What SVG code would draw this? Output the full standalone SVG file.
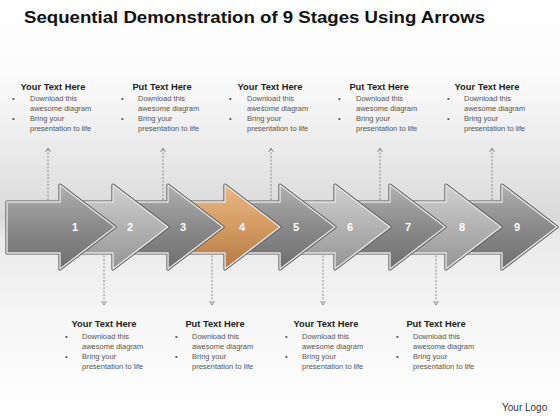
<svg xmlns="http://www.w3.org/2000/svg" width="560" height="420" viewBox="0 0 560 420">
<style>
.title{font-family:"Liberation Sans",Arial,sans-serif;font-weight:bold;font-size:17px;fill:#111}
.h{font-family:"Liberation Sans",Arial,sans-serif;font-weight:bold;font-size:9.3px;fill:#222;text-anchor:middle}
.b{font-family:"Liberation Sans",Arial,sans-serif;font-size:7.5px;fill:#555}
.num{font-family:"Liberation Sans",Arial,sans-serif;font-weight:bold;font-size:11px;fill:#fff;text-anchor:middle}
.logo{font-family:"Liberation Sans",Arial,sans-serif;font-size:10px;fill:#333}
.dash{stroke:#777;stroke-width:0.8;stroke-dasharray:2,1.5;fill:none}
.chev{stroke:#777;stroke-width:0.8;fill:none}
.outer{stroke:#5a5a5a;stroke-width:3.2;stroke-linejoin:round}
.inner{stroke:#e6e6e6;stroke-width:1.4;stroke-linejoin:round}
</style>
<defs>
<linearGradient id="bg" x1="0" y1="0" x2="0" y2="1">
<stop offset="0" stop-color="#ffffff"/>
<stop offset="0.18" stop-color="#fbfbfb"/>
<stop offset="0.4" stop-color="#e6e6e6"/>
<stop offset="0.52" stop-color="#d9d9d9"/>
<stop offset="0.56" stop-color="#e9e9e9"/>
<stop offset="0.75" stop-color="#f6f6f6"/>
<stop offset="1" stop-color="#ffffff"/>
</linearGradient>
<linearGradient id="gd" x1="0" y1="0" x2="0" y2="1">
<stop offset="0" stop-color="#b0b0b0"/>
<stop offset="0.5" stop-color="#8a8a8a"/>
<stop offset="1" stop-color="#6e6e6e"/>
</linearGradient>
<linearGradient id="gl" x1="0" y1="0" x2="0" y2="1">
<stop offset="0" stop-color="#d0d0d0"/>
<stop offset="0.5" stop-color="#b2b2b2"/>
<stop offset="1" stop-color="#959595"/>
</linearGradient>
<linearGradient id="go" x1="0" y1="0" x2="0" y2="1">
<stop offset="0" stop-color="#e8b886"/>
<stop offset="0.5" stop-color="#d39a62"/>
<stop offset="1" stop-color="#b57a45"/>
</linearGradient>
<path id="arr" d="M -108,-25 L -55,-25 L -55,-42 L 0,0 L -55,42 L -55,26 L -108,26 Z"/>
</defs>
<rect x="0" y="0" width="560" height="420" fill="url(#bg)"/>
<text class="title" x="24" y="23" textLength="461" lengthAdjust="spacingAndGlyphs">Sequential Demonstration of 9 Stages Using Arrows</text>

<g id="connectors">
<path class="dash" d="M48,149 V202 M163,149 V202 M271,149 V202 M380,149 V202 M492,149 V202"/>
<path class="chev" d="M45.5,152 L48,148 L50.5,152 M160.5,152 L163,148 L165.5,152 M268.5,152 L271,148 L273.5,152 M377.5,152 L380,148 L382.5,152 M489.5,152 L492,148 L494.5,152"/>
<path class="dash" d="M104,252 V305 M212,252 V305 M323,252 V305 M436,252 V305"/>
<path class="chev" d="M101.5,301 L104,305 L106.5,301 M209.5,301 L212,305 L214.5,301 M320.5,301 L323,305 L325.5,301 M433.5,301 L436,305 L438.5,301"/>
</g>

<g id="arrow9" transform="translate(557,227)"><use href="#arr" class="outer" fill="none"/><use href="#arr" class="inner" fill="url(#gd)"/></g>
<g id="arrow8" transform="translate(501,227)"><use href="#arr" class="outer" fill="none"/><use href="#arr" class="inner" fill="url(#gl)"/></g>
<g id="arrow7" transform="translate(445,227)"><use href="#arr" class="outer" fill="none"/><use href="#arr" class="inner" fill="url(#gd)"/></g>
<g id="arrow6" transform="translate(390,227)"><use href="#arr" class="outer" fill="none"/><use href="#arr" class="inner" fill="url(#gl)"/></g>
<g id="arrow5" transform="translate(335,227)"><use href="#arr" class="outer" fill="none"/><use href="#arr" class="inner" fill="url(#gd)"/></g>
<g id="arrow4" transform="translate(280,227)"><use href="#arr" class="outer" fill="none"/><use href="#arr" class="inner" fill="url(#go)"/></g>
<g id="arrow3" transform="translate(223,227)"><use href="#arr" class="outer" fill="none"/><use href="#arr" class="inner" fill="url(#gd)"/></g>
<g id="arrow2" transform="translate(168,227)"><use href="#arr" class="outer" fill="none"/><use href="#arr" class="inner" fill="url(#gl)"/></g>
<g id="arrow1" transform="translate(115,227)"><use href="#arr" class="outer" fill="none"/><use href="#arr" class="inner" fill="url(#gd)"/></g>

<g id="numbers">
<text class="num" x="75" y="231">1</text>
<text class="num" x="130" y="231">2</text>
<text class="num" x="183" y="231">3</text>
<text class="num" x="242" y="231">4</text>
<text class="num" x="296" y="231">5</text>
<text class="num" x="350" y="231">6</text>
<text class="num" x="408" y="231">7</text>
<text class="num" x="462" y="231">8</text>
<text class="num" x="517" y="231">9</text>
</g>

<g id="top1">
<text class="h" x="53" y="90">Your Text Here</text>
<text class="b" x="12" y="100.5">•</text><text class="b" x="30" y="100.5">Download this</text>
<text class="b" x="30" y="110.5">awesome diagram</text>
<text class="b" x="12" y="120.5">•</text><text class="b" x="30" y="120.5">Bring your</text>
<text class="b" x="30" y="130.5">presentation to life</text>
</g>
<g id="top2">
<text class="h" x="162" y="90">Put Text Here</text>
<text class="b" x="121" y="100.5">•</text><text class="b" x="138" y="100.5">Download this</text>
<text class="b" x="138" y="110.5">awesome diagram</text>
<text class="b" x="121" y="120.5">•</text><text class="b" x="138" y="120.5">Bring your</text>
<text class="b" x="138" y="130.5">presentation to life</text>
</g>
<g id="top3">
<text class="h" x="270" y="90">Your Text Here</text>
<text class="b" x="229" y="100.5">•</text><text class="b" x="247" y="100.5">Download this</text>
<text class="b" x="247" y="110.5">awesome diagram</text>
<text class="b" x="229" y="120.5">•</text><text class="b" x="247" y="120.5">Bring your</text>
<text class="b" x="247" y="130.5">presentation to life</text>
</g>
<g id="top4">
<text class="h" x="379" y="90">Put Text Here</text>
<text class="b" x="338" y="100.5">•</text><text class="b" x="356" y="100.5">Download this</text>
<text class="b" x="356" y="110.5">awesome diagram</text>
<text class="b" x="338" y="120.5">•</text><text class="b" x="356" y="120.5">Bring your</text>
<text class="b" x="356" y="130.5">presentation to life</text>
</g>
<g id="top5">
<text class="h" x="487" y="90">Your Text Here</text>
<text class="b" x="447" y="100.5">•</text><text class="b" x="464" y="100.5">Download this</text>
<text class="b" x="464" y="110.5">awesome diagram</text>
<text class="b" x="447" y="120.5">•</text><text class="b" x="464" y="120.5">Bring your</text>
<text class="b" x="464" y="130.5">presentation to life</text>
</g>

<g id="bot1">
<text class="h" x="104" y="327">Your Text Here</text>
<text class="b" x="65" y="338.5">•</text><text class="b" x="82" y="338.5">Download this</text>
<text class="b" x="82" y="348.5">awesome diagram</text>
<text class="b" x="65" y="358.5">•</text><text class="b" x="82" y="358.5">Bring your</text>
<text class="b" x="82" y="368.5">presentation to life</text>
</g>
<g id="bot2">
<text class="h" x="215" y="327">Put Text Here</text>
<text class="b" x="175" y="338.5">•</text><text class="b" x="192" y="338.5">Download this</text>
<text class="b" x="192" y="348.5">awesome diagram</text>
<text class="b" x="175" y="358.5">•</text><text class="b" x="192" y="358.5">Bring your</text>
<text class="b" x="192" y="368.5">presentation to life</text>
</g>
<g id="bot3">
<text class="h" x="326" y="327">Your Text Here</text>
<text class="b" x="285" y="338.5">•</text><text class="b" x="302" y="338.5">Download this</text>
<text class="b" x="302" y="348.5">awesome diagram</text>
<text class="b" x="285" y="358.5">•</text><text class="b" x="302" y="358.5">Bring your</text>
<text class="b" x="302" y="368.5">presentation to life</text>
</g>
<g id="bot4">
<text class="h" x="436" y="327">Put Text Here</text>
<text class="b" x="396" y="338.5">•</text><text class="b" x="413" y="338.5">Download this</text>
<text class="b" x="413" y="348.5">awesome diagram</text>
<text class="b" x="396" y="358.5">•</text><text class="b" x="413" y="358.5">Bring your</text>
<text class="b" x="413" y="368.5">presentation to life</text>
</g>

<text class="logo" x="502" y="411">Your Logo</text>
</svg>
